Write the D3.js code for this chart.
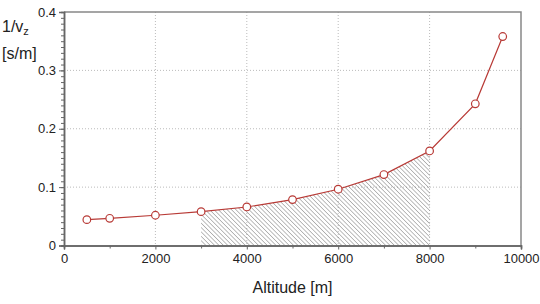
<!DOCTYPE html>
<html>
<head>
<meta charset="utf-8">
<script src="https://cdn.jsdelivr.net/npm/d3@7"></script>
<style>
  body { margin: 0; background: #fff; }
  text { font-family: "Liberation Sans", Arial, sans-serif; fill: #222; }
</style>
</head>
<body>
<script>
// data
var altitude = [500, 1000, 2000, 3000, 4000, 5000, 6000, 7000, 8000, 9000, 9600];
var invSpeed = [0.0443, 0.0466, 0.0518, 0.058, 0.066, 0.0786, 0.0964, 0.1215, 0.162, 0.2427, 0.358];
var shadeFrom = 3000, shadeTo = 8000;
var xTicks = [0, 2000, 4000, 6000, 8000, 10000];
var yTicks = [0, 0.1, 0.2, 0.3, 0.4];

var W = 540, H = 304;
var margin = {top: 12, right: 19, bottom: 58.5, left: 64};
var width = W - margin.left - margin.right,
    height = H - margin.top - margin.bottom;

var data = altitude.map(function(a, i) { return {x: a, y: invSpeed[i]}; });

var x = d3.scaleLinear().domain([0, 10000]).range([0, width]);
var y = d3.scaleLinear().domain([0, 0.4]).range([height, 0]);

var svg = d3.select("body").append("svg")
    .attr("width", W).attr("height", H);

// hatch pattern ("\\\" direction)
var defs = svg.append("defs");
defs.append("pattern")
    .attr("id", "hatch")
    .attr("patternUnits", "userSpaceOnUse")
    .attr("width", 3.1).attr("height", 3.1)
    .attr("patternTransform", "rotate(-45)")
  .append("line")
    .attr("x1", 0).attr("y1", 0).attr("x2", 0).attr("y2", 3.1)
    .attr("stroke", "#444").attr("stroke-width", 0.7);

var g = svg.append("g")
    .attr("transform", "translate(" + margin.left + "," + margin.top + ")");

// grid
g.append("g").selectAll("line")
  .data(xTicks.slice(1, -1)).enter().append("line")
    .attr("x1", function(d) { return x(d); }).attr("x2", function(d) { return x(d); })
    .attr("y1", 0).attr("y2", height)
    .attr("stroke", "#bbb").attr("stroke-dasharray", "1,2");
g.append("g").selectAll("line")
  .data(yTicks.slice(1, -1)).enter().append("line")
    .attr("y1", function(d) { return y(d); }).attr("y2", function(d) { return y(d); })
    .attr("x1", 0).attr("x2", width)
    .attr("stroke", "#bbb").attr("stroke-dasharray", "1,2");

// shaded area
var shade = data.filter(function(d) { return d.x >= shadeFrom && d.x <= shadeTo; });
g.append("path")
    .datum(shade)
    .attr("fill", "url(#hatch)")
    .attr("d", d3.area()
      .x(function(d) { return x(d.x); })
      .y0(y(0))
      .y1(function(d) { return y(d.y); }));

// frame top/right
g.append("path")
    .attr("d", "M0,0H" + width + "V" + height)
    .attr("fill", "none").attr("stroke", "#888").attr("stroke-width", 1.5);

// axes
var xAxis = d3.axisBottom(x).tickValues(xTicks).tickFormat(d3.format("d")).tickSize(4).tickPadding(4);
var xMinor = d3.axisBottom(x).tickValues(d3.range(1000, 10000, 2000)).tickFormat("").tickSize(3);
var yAxis = d3.axisLeft(y).tickValues(yTicks).tickFormat(function(d) { return d === 0 ? "0" : d3.format(".1f")(d); }).tickSize(5).tickPadding(3);
var yMinor = d3.axisLeft(y).tickValues(d3.range(0, 0.4, 0.01)).tickFormat("").tickSize(3);

function styleAxis(sel) {
  sel.select(".domain").attr("stroke", "#666").attr("stroke-width", 1.5);
  sel.selectAll(".tick line").attr("stroke", "#666");
  sel.selectAll(".tick text").style("font-size", "13px").attr("fill", "#222");
}

g.append("g").attr("transform", "translate(0," + height + ")").call(xMinor).call(styleAxis);
g.append("g").attr("transform", "translate(0," + height + ")").call(xAxis).call(styleAxis);
g.append("g").call(yMinor).call(styleAxis);
g.append("g").call(yAxis).call(styleAxis);

// line + markers
var color = "#b83a36";
g.append("path")
    .datum(data)
    .attr("fill", "none").attr("stroke", color).attr("stroke-width", 1.2)
    .attr("d", d3.line().x(function(d) { return x(d.x); }).y(function(d) { return y(d.y); }));

g.selectAll(".pt").data(data).enter().append("circle")
    .attr("class", "pt")
    .attr("cx", function(d) { return x(d.x); })
    .attr("cy", function(d) { return y(d.y); })
    .attr("r", 3.8)
    .attr("fill", "#fff").attr("stroke", color).attr("stroke-width", 1.2);

// labels
svg.append("text")
    .attr("x", margin.left + width / 2).attr("y", 293)
    .attr("text-anchor", "middle").style("font-size", "16px")
    .text("Altitude [m]");

var yl = svg.append("text").attr("x", 2).attr("y", 32).style("font-size", "16px");
yl.append("tspan").text("1/v");
yl.append("tspan").attr("dy", 3).style("font-size", "11px").text("z");
svg.append("text").attr("x", 2).attr("y", 59).style("font-size", "16px").text("[s/m]");
</script>
</body>
</html>
